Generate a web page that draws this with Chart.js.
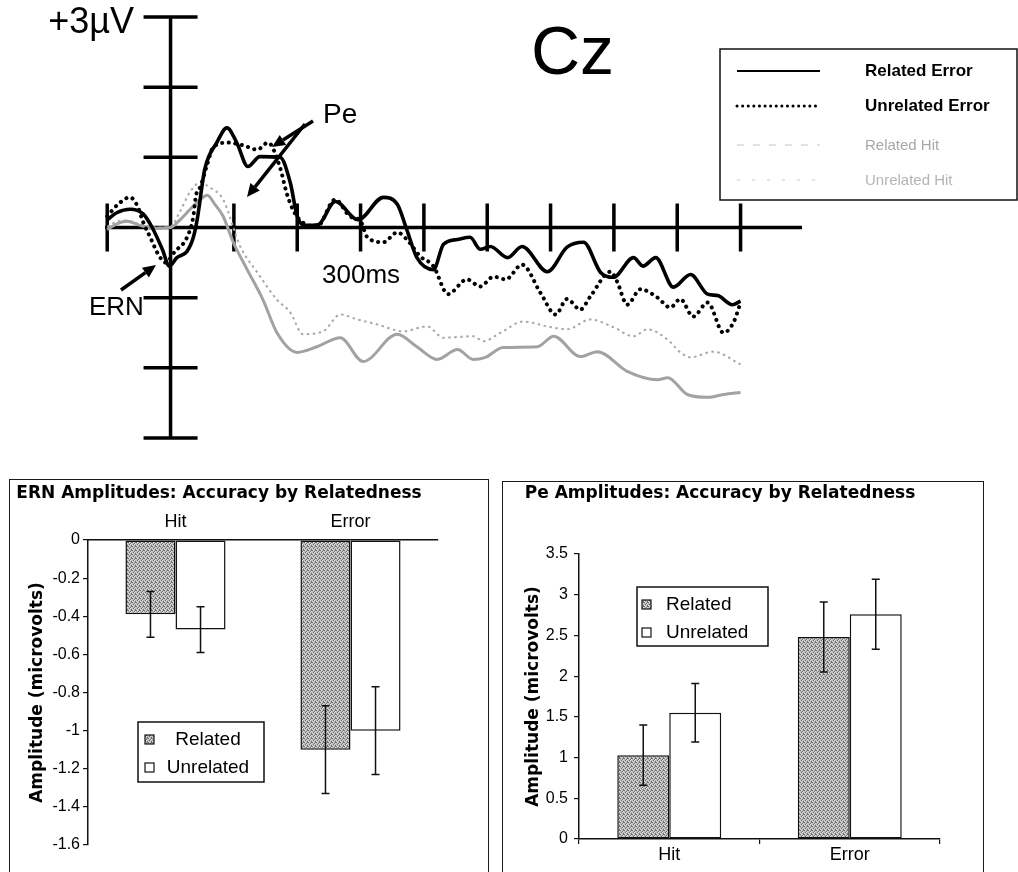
<!DOCTYPE html>
<html>
<head>
<meta charset="utf-8">
<script src="https://cdn.jsdelivr.net/npm/chart.js@4/dist/chart.umd.min.js"></script>
<style>
  html, body { margin: 0; padding: 0; background: #fff; width: 1018px; height: 872px; overflow: hidden; }
  .holder { position: absolute; }
  .frame { position: absolute; border: 1.5px solid #1a1a1a; border-bottom: none; box-sizing: border-box; }
</style>
</head>
<body>
<div class="frame" style="left:9px;top:479px;width:480px;height:400px"></div>
<div class="frame" style="left:502px;top:481px;width:482px;height:400px"></div>
<div class="holder" style="left:0;top:0"><canvas id="erp" width="1018" height="450"></canvas></div>
<div class="holder" style="left:0;top:450px"><canvas id="ern" width="500" height="422"></canvas></div>
<div class="holder" style="left:500px;top:450px"><canvas id="pe" width="518" height="422"></canvas></div>
<script>
// ---------- Grand-average waveforms at Cz (time in ms, amplitude in µV) ----------
const relErrT = [-100,-85,-64,-43,-29,-13,-2,10,26,36,42,54,73,89,105,122,141,173,189,200,212,233,260,296,336,358,373,389,415,431,453,473,489,505,532,555,595,626,652,679,699,731,746,766,794,821,848,864,887,900];
const relErrV = [0.11,0.21,0.26,0.19,0.0,-0.31,-0.55,-0.43,-0.34,-0.14,0.11,0.83,1.21,1.42,1.2,0.87,1.01,1.0,0.64,0.16,0.03,0.04,0.37,0.11,0.43,0.33,-0.03,-0.43,-0.6,-0.24,-0.17,-0.14,-0.31,-0.27,-0.43,-0.27,-0.63,-0.28,-0.21,-0.64,-0.71,-0.43,-0.55,-0.43,-0.85,-0.67,-0.95,-0.97,-1.1,-1.05];

const unrErrT = [-100,-83,-64,-52,-43,-32,-19,-8,7,26,36,40,47,58,67,91,115,137,154,173,184,197,209,231,260,283,300,310,336,358,373,394,415,438,468,489,510,529,555,584,608,626,647,663,695,705,721,742,769,789,805,825,848,873,889,900];
const unrErrV = [0.16,0.33,0.43,0.3,0.07,-0.14,-0.39,-0.5,-0.34,-0.14,0.16,0.45,0.58,0.9,1.14,1.21,1.17,1.11,1.21,0.85,0.47,0.19,0.07,0.01,0.4,0.16,0.09,-0.13,-0.21,-0.07,-0.17,-0.41,-0.55,-0.95,-0.74,-0.84,-0.7,-0.74,-0.53,-0.93,-1.24,-1.02,-1.17,-0.98,-0.63,-0.77,-1.1,-0.88,-1.0,-1.14,-1.02,-1.27,-1.07,-1.5,-1.35,-1.07];

const relHitT = [-100,-83,-69,-48,-24,0,15,31,47,58,70,83,99,121,146,168,200,231,268,304,358,389,421,453,478,497,525,579,605,647,674,721,769,785,816,848,873,900];
const relHitV = [-0.03,0.06,0.09,0.03,-0.01,0.0,0.11,0.26,0.4,0.46,0.33,0.16,-0.21,-0.6,-1.03,-1.5,-1.78,-1.7,-1.57,-1.91,-1.52,-1.7,-1.88,-1.74,-1.88,-1.85,-1.71,-1.7,-1.55,-1.84,-1.77,-2.05,-2.17,-2.14,-2.38,-2.42,-2.38,-2.35];

const unrHitT = [-100,-83,-69,-48,-24,0,15,31,47,62,83,110,137,168,189,209,241,268,295,326,367,405,431,478,494,521,557,595,626,663,699,731,753,785,805,821,857,900];
const unrHitV = [0.01,0.09,0.1,0.04,0.0,0.01,0.23,0.51,0.64,0.57,0.4,-0.27,-0.64,-1.03,-1.21,-1.52,-1.48,-1.24,-1.31,-1.38,-1.48,-1.41,-1.57,-1.55,-1.62,-1.5,-1.34,-1.41,-1.45,-1.31,-1.42,-1.55,-1.45,-1.6,-1.78,-1.85,-1.77,-1.95];

const erpSeriesNames = ['Related Error', 'Unrelated Error', 'Related Hit', 'Unrelated Hit'];
const erpTimeTicks = [-100, 0, 100, 200, 300, 400, 500, 600, 700, 800, 900];
const erpVoltTicks = [-3, -2, -1, 0, 1, 2, 3];

// ---------- Peak amplitudes (µV) by accuracy ----------
const accuracyCats = ['Hit', 'Error'];
const groupNames = ['Related', 'Unrelated'];
const ernRelated = [-0.39, -1.10];
const ernUnrelated = [-0.47, -1.00];
const ernRelatedErr = [0.12, 0.23];
const ernUnrelatedErr = [0.12, 0.23];
const ernTicks = [0, -0.2, -0.4, -0.6, -0.8, -1, -1.2, -1.4, -1.6];

const peRelated = [1.03, 2.48];
const peUnrelated = [1.55, 2.76];
const peRelatedErr = [0.37, 0.43];
const peUnrelatedErr = [0.36, 0.43];
const peTicks = [0, 0.5, 1, 1.5, 2, 2.5, 3, 3.5];

const ARIAL = '"Liberation Sans", Arial, sans-serif';
const DEJAVU = '"DejaVu Sans", sans-serif';

// ---------------- ERP waveform panel ----------------
const pts = (t, v) => t.map((x, i) => ({ x, y: v[i] }));

const erpAxes = {
  id: 'erpAxes',
  beforeDatasetsDraw(chart) {
    const { ctx, chartArea: a, scales: { x, y } } = chart;
    const x0 = x.getPixelForValue(0), y0 = y.getPixelForValue(0);
    ctx.save();
    ctx.strokeStyle = '#000';
    ctx.lineWidth = 3.5;
    ctx.beginPath();
    ctx.moveTo(a.left, y0); ctx.lineTo(a.right, y0);
    ctx.moveTo(x0, y.getPixelForValue(3)); ctx.lineTo(x0, y.getPixelForValue(-3));
    erpVoltTicks.forEach(v => {
      if (v === 0) return;
      const py = y.getPixelForValue(v);
      ctx.moveTo(x0 - 27, py); ctx.lineTo(x0 + 27, py);
    });
    erpTimeTicks.forEach(t => {
      if (t === 0) return;
      const px = x.getPixelForValue(t);
      ctx.moveTo(px, y0 - 24); ctx.lineTo(px, y0 + 24);
    });
    ctx.stroke();
    ctx.restore();
  },
  afterDraw(chart) {
    const { ctx } = chart;
    ctx.save();
    ctx.fillStyle = '#000';
    ctx.textBaseline = 'alphabetic';
    ctx.font = '36px ' + ARIAL; ctx.textAlign = 'right';
    ctx.fillText('+3\u00B5V', 134, 33);
    ctx.textAlign = 'left';
    ctx.font = '68px ' + ARIAL; ctx.fillText('Cz', 531, 74);
    ctx.font = '28px ' + ARIAL; ctx.fillText('Pe', 323, 123);
    ctx.font = '26px ' + ARIAL; ctx.fillText('ERN', 89, 315);
    ctx.font = '26px ' + ARIAL; ctx.fillText('300ms', 322, 283);

    const arrow = (x1, y1, x2, y2) => {
      const ang = Math.atan2(y2 - y1, x2 - x1), L = 13, W = 6;
      const bx = x2 - L * Math.cos(ang), by = y2 - L * Math.sin(ang);
      ctx.strokeStyle = '#000'; ctx.lineWidth = 3.5; ctx.lineCap = 'butt';
      ctx.beginPath(); ctx.moveTo(x1, y1); ctx.lineTo(bx, by); ctx.stroke();
      ctx.beginPath();
      ctx.moveTo(x2, y2);
      ctx.lineTo(bx + W * Math.sin(ang), by - W * Math.cos(ang));
      ctx.lineTo(bx - W * Math.sin(ang), by + W * Math.cos(ang));
      ctx.closePath(); ctx.fill();
    };
    arrow(313, 121, 272, 147);
    arrow(305, 124, 247, 197);
    arrow(121, 290, 156, 265);

    // legend box
    ctx.lineWidth = 1.5; ctx.strokeStyle = '#111';
    ctx.strokeRect(720, 49, 297, 151);
    const rows = [71, 106, 145, 180];
    const textCol = ['#000', '#000', '#a8a8a8', '#b4b4b4'];
    const textFont = ['bold 17px ' + ARIAL, 'bold 17px ' + ARIAL, '15px ' + ARIAL, '15px ' + ARIAL];
    const sample = [
      { c: '#000', w: 2, d: [], cap: 'butt' },
      { c: '#000', w: 3, d: [0.1, 5.5], cap: 'round' },
      { c: '#c4c4c4', w: 1.2, d: [7, 9], cap: 'butt' },
      { c: '#c8c8c8', w: 1.2, d: [3, 12], cap: 'butt' }
    ];
    chart.data.datasets.forEach((ds, i) => {
      const s = sample[i];
      ctx.strokeStyle = s.c; ctx.lineWidth = s.w; ctx.setLineDash(s.d); ctx.lineCap = s.cap;
      ctx.beginPath(); ctx.moveTo(737, rows[i]); ctx.lineTo(820, rows[i]); ctx.stroke();
      ctx.setLineDash([]);
      ctx.fillStyle = textCol[i]; ctx.font = textFont[i];
      ctx.textBaseline = 'middle';
      ctx.fillText(ds.label, 865, rows[i] + (i < 2 ? 0 : 1));
    });
    ctx.restore();
  }
};

new Chart(document.getElementById('erp'), {
  type: 'line',
  data: {
    datasets: [
      { label: erpSeriesNames[0], data: pts(relErrT, relErrV), borderColor: '#000', borderWidth: 3.6, pointRadius: 0, cubicInterpolationMode: 'monotone' },
      { label: erpSeriesNames[1], data: pts(unrErrT, unrErrV), borderColor: '#000', borderWidth: 4, borderDash: [0.1, 6.5], borderCapStyle: 'round', pointRadius: 0, cubicInterpolationMode: 'monotone' },
      { label: erpSeriesNames[2], data: pts(relHitT, relHitV), borderColor: '#a2a2a2', borderWidth: 3, pointRadius: 0, cubicInterpolationMode: 'monotone' },
      { label: erpSeriesNames[3], data: pts(unrHitT, unrHitV), borderColor: '#a8a8a8', borderWidth: 2, borderDash: [2.5, 3.5], pointRadius: 0, cubicInterpolationMode: 'monotone' }
    ]
  },
  options: {
    responsive: false, animation: false, devicePixelRatio: 1, events: [],
    layout: { padding: { left: 105, right: 216, top: 17, bottom: 12 } },
    scales: {
      x: { type: 'linear', min: -103.5, max: 997, display: false },
      y: { type: 'linear', min: -3, max: 3, display: false }
    },
    plugins: { legend: { display: false }, tooltip: { enabled: false } }
  },
  plugins: [erpAxes]
});

// ---------------- Bar panels ----------------
// speckled gray fill for the "Related" bars
function stipple() {
  const c = document.createElement('canvas');
  c.width = 4; c.height = 4;
  const g = c.getContext('2d');
  g.fillStyle = '#b8b8b8'; g.fillRect(0, 0, 4, 4);
  g.fillStyle = '#6f6f6f';
  [[0, 0], [2, 1], [1, 2], [3, 3], [3, 0]].forEach(([px, py]) => g.fillRect(px, py, 1, 1));
  g.fillStyle = '#e2e2e2';
  [[1, 0], [3, 1], [0, 3], [2, 2]].forEach(([px, py]) => g.fillRect(px, py, 1, 1));
  return g.createPattern(c, 'repeat');
}
const grayFill = stipple();

const errorBars = {
  id: 'errorBars',
  afterDatasetsDraw(chart, args, opts) {
    const { ctx, scales: { y } } = chart;
    ctx.save();
    ctx.strokeStyle = '#111'; ctx.lineWidth = 1.5;
    chart.data.datasets.forEach((ds, i) => {
      const meta = chart.getDatasetMeta(i);
      meta.data.forEach((bar, j) => {
        const v = ds.data[j], e = opts.errors[i][j];
        const yHi = y.getPixelForValue(v + e), yLo = y.getPixelForValue(v - e);
        ctx.beginPath();
        ctx.moveTo(bar.x, yHi); ctx.lineTo(bar.x, yLo);
        ctx.moveTo(bar.x - 4, yHi); ctx.lineTo(bar.x + 4, yHi);
        ctx.moveTo(bar.x - 4, yLo); ctx.lineTo(bar.x + 4, yLo);
        ctx.stroke();
      });
    });
    ctx.restore();
  }
};

const boxLegend = {
  id: 'boxLegend',
  afterDraw(chart, args, o) {
    const { ctx } = chart;
    ctx.save();
    ctx.fillStyle = '#fff';
    ctx.fillRect(o.x, o.y, o.w, o.h);
    ctx.strokeStyle = '#111'; ctx.lineWidth = 1.5;
    ctx.strokeRect(o.x, o.y, o.w, o.h);
    chart.data.datasets.forEach((ds, i) => {
      const cy = o.rows[i];
      ctx.fillStyle = ds.backgroundColor;
      ctx.fillRect(o.swatchX, cy - 5, 9, 9);
      ctx.lineWidth = 1.2; ctx.strokeStyle = '#111';
      ctx.strokeRect(o.swatchX, cy - 5, 9, 9);
      ctx.fillStyle = '#000';
      ctx.font = '19px ' + ARIAL;
      ctx.textBaseline = 'middle';
      ctx.textAlign = o.align;
      ctx.fillText(ds.label, o.textX, cy);
    });
    ctx.restore();
  }
};

function barPanel(id, cfg) {
  return new Chart(document.getElementById(id), {
    type: 'bar',
    data: {
      labels: accuracyCats,
      datasets: [
        { label: groupNames[0], data: cfg.related, backgroundColor: grayFill, borderColor: '#111', borderWidth: 1.5, borderSkipped: false, categoryPercentage: cfg.cat, barPercentage: 1 },
        { label: groupNames[1], data: cfg.unrelated, backgroundColor: '#fff', borderColor: '#111', borderWidth: 1.5, borderSkipped: false, categoryPercentage: cfg.cat, barPercentage: 1 }
      ]
    },
    options: {
      responsive: false, animation: false, devicePixelRatio: 1, events: [],
      layout: { padding: cfg.padding },
      scales: {
        x: {
          position: cfg.xPos,
          afterFit: s => { s.height = cfg.xHeight; },
          grid: { display: true, drawOnChartArea: false, drawTicks: cfg.xTicks, tickLength: 5, color: '#111', lineWidth: 1.2 },
          border: { display: true, color: '#111', width: 1.5 },
          ticks: { color: '#000', font: { family: ARIAL, size: 18 }, padding: cfg.xPad, maxRotation: 0 }
        },
        y: {
          min: cfg.min, max: cfg.max,
          afterBuildTicks: s => { s.ticks = cfg.ticks.map(v => ({ value: v })); },
          afterFit: s => { s.width = cfg.yWidth; },
          grid: { display: true, drawOnChartArea: false, drawTicks: true, tickLength: 5, color: '#111', lineWidth: 1.2 },
          border: { display: true, color: '#111', width: 1.5 },
          ticks: { color: '#000', font: { family: ARIAL, size: 16 }, padding: cfg.yPad, callback: v => String(v) },
          title: { display: true, text: 'Amplitude (microvolts)', color: '#000', font: { family: DEJAVU, size: 17, weight: 'bold' }, padding: { top: cfg.yTitlePad, bottom: 0 } }
        }
      },
      plugins: {
        legend: { display: false }, tooltip: { enabled: false },
        title: { display: true, text: cfg.title, color: '#000', font: { family: DEJAVU, size: 17, weight: 'bold' }, padding: { top: 33, bottom: cfg.titleBottom } },
        errorBars: { errors: cfg.errors },
        boxLegend: cfg.legend
      }
    },
    plugins: [errorBars, boxLegend]
  });
}

barPanel('ern', {
  title: 'ERN Amplitudes: Accuracy by Relatedness',
  related: ernRelated, unrelated: ernUnrelated,
  errors: [ernRelatedErr, ernUnrelatedErr],
  ticks: ernTicks, min: -1.6, max: 0,
  cat: 0.572, xPos: 'top', xHeight: 36.6, xTicks: false, xPad: 7,
  yWidth: 88, yPad: 3, yTitlePad: 27, titleBottom: 0,
  padding: { left: 0, right: 62, top: 0, bottom: 27 },
  legend: { x: 138, y: 272, w: 126, h: 60, rows: [290, 318], swatchX: 145, textX: 208, align: 'center' }
});

barPanel('pe', {
  title: 'Pe Amplitudes: Accuracy by Relatedness',
  related: peRelated, unrelated: peUnrelated,
  errors: [peRelatedErr, peUnrelatedErr],
  ticks: peTicks, min: 0, max: 3.5,
  cat: 0.576, xPos: 'bottom', xHeight: 33, xTicks: true, xPad: 0,
  yWidth: 79, yPad: 6, yTitlePad: 23, titleBottom: 50.6,
  padding: { left: 0, right: 78, top: 0, bottom: 0 },
  legend: { x: 137, y: 137, w: 131, h: 59, rows: [155, 183], swatchX: 142, textX: 166, align: 'left' }
});
</script>
</body>
</html>
